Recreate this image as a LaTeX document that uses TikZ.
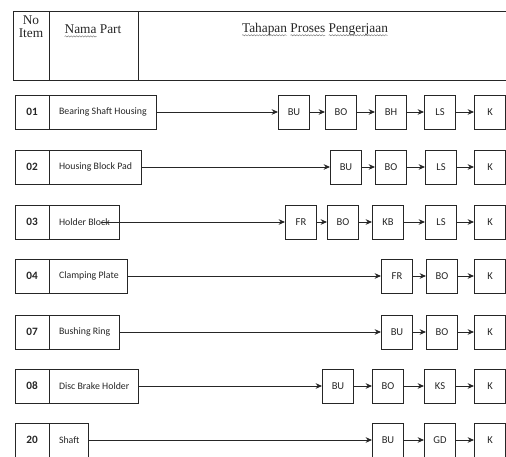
\documentclass[tikz,border=0pt]{standalone}
\usepackage{fontspec}
\setmainfont{Liberation Serif}
\newfontfamily\calfont{Carlito}
\usetikzlibrary{decorations.pathmorphing, arrows.meta}
\newsavebox\wavybox
\newcommand\wavy[1]{\sbox\wavybox{#1}\tikz[overlay,baseline=0pt]\draw[line width=0.3pt, black!55, decorate, decoration={snake, amplitude=0.45pt, segment length=2pt}] (0pt,-2.2pt) -- (\wd\wavybox,-2.2pt);\usebox\wavybox}
\begin{document}
\begin{tikzpicture}[x=0.025cm, y=-0.025cm, >={Stealth[length=4.5pt, width=4pt]}, line width=0.6pt, draw=black!85,
    every node/.style={font=\calfont\fontsize{7}{8}\selectfont, text=black!85},
    numbox/.style={draw, minimum width=0.85cm, minimum height=0.85cm, inner sep=0pt, font=\calfont\bfseries\fontsize{8}{9}\selectfont},
    namebox/.style={draw, anchor=west, minimum height=0.85cm, inner xsep=0.23cm, inner ysep=0pt},
    proc/.style={draw, minimum width=0.78cm, minimum height=0.85cm, inner sep=0pt, font=\calfont\fontsize{7.5}{8}\selectfont},
    head/.style={font=\fontsize{9.5}{11}\selectfont, align=center}]
    \useasboundingbox (0,0) rectangle (506,457);
    % tabel judul
    \draw (506,11) -- (13,11) -- (13,80) -- (506,80);
    \draw (49,11) -- (49,80);
    \draw (138,11) -- (138,80);
    \node[head] (hno) at (31,27) {No\\[-2pt]Item};
    \node[head] (hnm) at (93,29) {\wavy{Nama} Part};
    \node[head] (htp) at (315,29) {\wavy{Tahapan} \wavy{Proses} \wavy{Pengerjaan}};
    % 01
    \node[numbox] (no1) at (32,112) {01};
    \node[namebox] (nm1) at (no1.east) {Bearing Shaft Housing};
    \node[proc] (bu1) at (294,112) {BU};
    \node[proc] (bo1) at (341,112) {BO};
    \node[proc] (bh1) at (391,112) {BH};
    \node[proc] (ls1) at (440,112) {LS};
    \node[proc] (k1) at (490,112) {K};
    \draw[->] (nm1)--(bu1);
    \draw[->] (bu1)--(bo1);
    \draw[->] (bo1)--(bh1);
    \draw[->] (bh1)--(ls1);
    \draw[->] (ls1)--(k1);
    % 02
    \node[numbox] (no2) at (32,167) {02};
    \node[namebox] (nm2) at (no2.east) {Housing Block Pad};
    \node[proc] (bu2) at (346,167) {BU};
    \node[proc] (bo2) at (391,167) {BO};
    \node[proc] (ls2) at (441,167) {LS};
    \node[proc] (k2) at (490,167) {K};
    \draw[->] (nm2)--(bu2);
    \draw[->] (bu2)--(bo2);
    \draw[->] (bo2)--(ls2);
    \draw[->] (ls2)--(k2);
    % 03
    \node[numbox] (no3) at (32,222) {03};
    \node[namebox] (nm3) at (no3.east) {Holder Block};
    \coordinate (s3) at ([xshift=-0.45cm]nm3.east);
    \node[proc] (fr3) at (301,222) {FR};
    \node[proc] (bo3) at (343,222) {BO};
    \node[proc] (kb3) at (388,222) {KB};
    \node[proc] (ls3) at (441,222) {LS};
    \node[proc] (k3) at (490,222) {K};
    \draw[->] (s3)--(fr3);
    \draw[->] (fr3)--(bo3);
    \draw[->] (bo3)--(kb3);
    \draw[->] (kb3)--(ls3);
    \draw[->] (ls3)--(k3);
    % 04
    \node[numbox] (no4) at (32,276) {04};
    \node[namebox] (nm4) at (no4.east) {Clamping Plate};
    \node[proc] (fr4) at (397,276) {FR};
    \node[proc] (bo4) at (442,276) {BO};
    \node[proc] (k4) at (490,276) {K};
    \draw[->] (nm4)--(fr4);
    \draw[->] (fr4)--(bo4);
    \draw[->] (bo4)--(k4);
    % 07
    \node[numbox] (no5) at (32,332) {07};
    \node[namebox] (nm5) at (no5.east) {Bushing Ring};
    \node[proc] (bu5) at (397,332) {BU};
    \node[proc] (bo5) at (442,332) {BO};
    \node[proc] (k5) at (490,332) {K};
    \draw[->] (nm5)--(bu5);
    \draw[->] (bu5)--(bo5);
    \draw[->] (bo5)--(k5);
    % 08
    \node[numbox] (no6) at (32,386) {08};
    \node[namebox] (nm6) at (no6.east) {Disc Brake Holder};
    \node[proc] (bu6) at (338,386) {BU};
    \node[proc] (bo6) at (388,386) {BO};
    \node[proc] (ks6) at (440,386) {KS};
    \node[proc] (k6) at (490,386) {K};
    \draw[->] (nm6)--(bu6);
    \draw[->] (bu6)--(bo6);
    \draw[->] (bo6)--(ks6);
    \draw[->] (ks6)--(k6);
    % 20
    \node[numbox] (no7) at (32,440) {20};
    \node[namebox] (nm7) at (no7.east) {Shaft};
    \node[proc] (bu7) at (388,440) {BU};
    \node[proc] (gd7) at (440,440) {GD};
    \node[proc] (k7) at (490,440) {K};
    \draw[->] (nm7)--(bu7);
    \draw[->] (bu7)--(gd7);
    \draw[->] (gd7)--(k7);
\end{tikzpicture}
\end{document}
